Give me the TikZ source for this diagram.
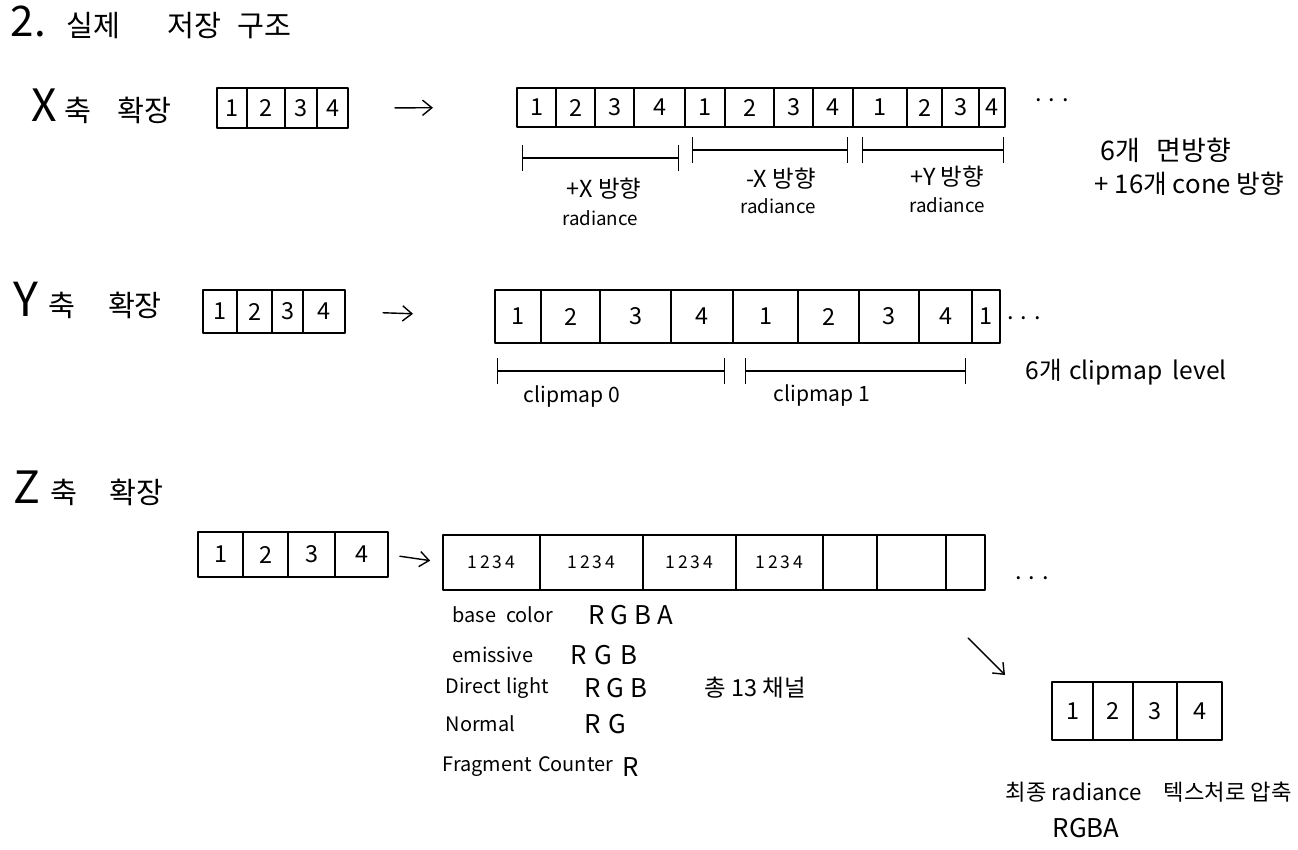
\documentclass[tikz,border=0pt]{standalone}
\usepackage{fontspec}
\setmainfont{Noto Sans CJK KR}
\usetikzlibrary{arrows.meta}
\newcommand\mkcell[7][]{\node[cellbox,#1, minimum width={(#4-#3)*0.03cm}, minimum height={(#6-#5)*0.03cm}] (#2) at ({(#3+#4)/2},{(#5+#6)/2}) {#7};}
\tikzset{
  cellbox/.style={draw, inner sep=0pt, outer sep=0pt, font=\fontsize{20}{20}\selectfont},
  zcell/.style={font=\fontsize{15}{15}\selectfont},
  conn/.style={-{Straight Barb[length=8pt,width=13pt]}, line width=1.2pt},
  dim/.style={{Bar[width=22pt]}-{Bar[width=22pt]}, line width=1.2pt},
  lbl/.style={inner sep=0pt, anchor=west, font=\fontsize{25}{27}\selectfont},
  note/.style={inner sep=0pt, font=\fontsize{20}{22}\selectfont},
  dirlab/.style={inner sep=0pt, font=\fontsize{20}{22}\selectfont},
  small/.style={inner sep=0pt, font=\fontsize{16}{18}\selectfont},
  chan/.style={inner sep=0pt, anchor=west, font=\fontsize{17}{20}\selectfont},
  chanv/.style={inner sep=0pt, anchor=west, font=\fontsize{22}{24}\selectfont}
}
\begin{document}
\begin{tikzpicture}[x=0.03cm, y=-0.03cm, line width=1.2pt, line join=round, line cap=round]
\useasboundingbox (0,0) rectangle (1298,850);

% title and row labels
\node[lbl] (title) at (10,22) {{\fontsize{36}{36}\selectfont 2.}\hspace{0.7em}실제\hspace{1.6em}저장\hspace{0.55em}구조};
\node[lbl] (xlab) at (31,106) {{\fontsize{38}{38}\selectfont X}\hspace{0.25em}축\hspace{0.9em}확장};
\node[lbl] (ylab) at (13,300) {{\fontsize{40}{40}\selectfont Y}\hspace{0.35em}축\hspace{1.1em}확장};
\node[lbl] (zlab) at (13,488) {{\fontsize{38}{38}\selectfont Z}\hspace{0.35em}축\hspace{1.1em}확장};

% ---- X row ----
\mkcell{xs1}{217}{247}{88}{128}{1}
\mkcell{xs2}{247}{285}{88}{128}{2}
\mkcell{xs3}{285}{317}{88}{128}{3}
\mkcell{xs4}{317}{348}{88}{128}{4}

\mkcell{xb1}{517}{556}{88}{127}{1}
\mkcell{xb2}{556}{595}{88}{127}{2}
\mkcell{xb3}{595}{634}{88}{127}{3}
\mkcell{xb4}{634}{685}{88}{127}{4}
\mkcell{xb5}{685}{725}{88}{127}{1}
\mkcell{xb6}{725}{774}{88}{127}{2}
\mkcell{xb7}{774}{813}{88}{127}{3}
\mkcell{xb8}{813}{853}{88}{127}{4}
\mkcell{xb9}{853}{907}{88}{127}{1}
\mkcell{xb10}{907}{942}{88}{127}{2}
\mkcell{xb11}{942}{979}{88}{127}{3}
\mkcell{xb12}{979}{1005}{88}{127}{4}
\node[note] (xdots) at (1052,100) {. . .};

\draw[conn, shorten <=1.41cm, shorten >=2.52cm] (xs4.east) -- (xb1.west);

\coordinate (bx1a) at (522,158); \coordinate (bx1b) at (679,158);
\coordinate (bx2a) at (692,150); \coordinate (bx2b) at (848,150);
\coordinate (bx3a) at (862,150); \coordinate (bx3b) at (1004,150);
\draw[dim] (bx1a) -- (bx1b);
\draw[dim] (bx2a) -- (bx2b);
\draw[dim] (bx3a) -- (bx3b);
\node[dirlab] (lpx) at (604,189) {+X 방향};
\node[small] (lpxr) at (600,218) {radiance};
\node[dirlab] (lmx) at (781,179) {-X 방향};
\node[small] (lmxr) at (778,206) {radiance};
\node[dirlab] (lpy) at (947,177) {+Y 방향};
\node[small] (lpyr) at (947,205) {radiance};

\node[note, anchor=west, font=\fontsize{23}{25}\selectfont] (n1) at (1100,150) {6개\hspace{0.6em}면방향};
\node[note, anchor=west, font=\fontsize{22}{24}\selectfont] (n2) at (1094,184) {+ 16개 cone 방향};

% ---- Y row ----
\mkcell{ys1}{203}{237}{290}{333}{1}
\mkcell{ys2}{237}{272}{290}{333}{2}
\mkcell{ys3}{272}{303}{290}{333}{3}
\mkcell{ys4}{303}{345}{290}{333}{4}

\mkcell{yb1}{495}{541}{290}{343}{1}
\mkcell{yb2}{541}{600}{290}{343}{2}
\mkcell{yb3}{600}{671}{290}{343}{3}
\mkcell{yb4}{671}{733}{290}{343}{4}
\mkcell{yb5}{733}{798}{290}{343}{1}
\mkcell{yb6}{798}{859}{290}{343}{2}
\mkcell{yb7}{859}{919}{290}{343}{3}
\mkcell{yb8}{919}{972}{290}{343}{4}
\mkcell{yb9}{972}{1000}{290}{343}{1}
\node[note] (ydots) at (1024,318) {. . .};

\draw[conn, shorten <=1.14cm, shorten >=2.46cm] (ys4.east) -- (yb1.west);

\coordinate (by1a) at (497,371); \coordinate (by1b) at (725,371);
\coordinate (by2a) at (745,371); \coordinate (by2b) at (966,371);
\draw[dim] (by1a) -- (by1b);
\draw[dim] (by2a) -- (by2b);
\node[note, font=\fontsize{18}{20}\selectfont] (c0) at (572,397) {clipmap 0};
\node[note, font=\fontsize{18}{20}\selectfont] (c1) at (822,396) {clipmap 1};

\node[note, anchor=west, font=\fontsize{21}{23}\selectfont] (n3) at (1025,372) {6개\hspace{0.3em}clipmap\hspace{0.4em}level};

% ---- Z row ----
\mkcell{zs1}{198}{243}{532}{577}{1}
\mkcell{zs2}{243}{288}{532}{577}{2}
\mkcell{zs3}{288}{335}{532}{577}{3}
\mkcell{zs4}{335}{388}{532}{577}{4}

\mkcell[zcell]{zb1}{443}{540}{535}{590}{1\,2\,3\,4}
\mkcell[zcell]{zb2}{540}{643}{535}{590}{1\,2\,3\,4}
\mkcell[zcell]{zb3}{643}{736}{535}{590}{1\,2\,3\,4}
\mkcell[zcell]{zb4}{736}{823}{535}{590}{1\,2\,3\,4}
\mkcell[zcell]{zb5}{823}{877}{535}{590}{}
\mkcell[zcell]{zb6}{877}{946}{535}{590}{}
\mkcell[zcell]{zb7}{946}{985}{535}{590}{}
\node[note] (zdots) at (1032,578) {. . .};

\draw[conn, shorten <=0.36cm, shorten >=0.39cm] (zs4.east) -- (zb1.west);

% channel list
\node[chan] (ch1) at (452,615) {base\hspace{0.5em}color};
\node[chanv] (ch1v) at (588,615) {R G B A};
\node[chan] (ch2) at (452,655) {emissive};
\node[chanv] (ch2v) at (570,655) {R\hspace{0.3em}G\hspace{0.3em}B};
\node[chan] (ch3) at (445,688) {Direct\hspace{0.3em}light};
\node[chanv] (ch3v) at (584,688) {R G B};
\node[chan] (ch4) at (445,724) {Normal};
\node[chanv] (ch4v) at (584,724) {R\hspace{0.3em}G};
\node[chan] (ch5) at (442,767) {Fragment\hspace{0.3em}Counter};
\node[chanv] (ch5v) at (622,767) {R};
\node[note] (total) at (755,688) {총 13 채널};

% compression arrow and final texture
\coordinate (da) at (968,638);
\coordinate (db) at (1005,675);
\draw[conn] (da) -- (db);

\mkcell{f1}{1052}{1093}{682}{740}{1}
\mkcell{f2}{1093}{1133}{682}{740}{2}
\mkcell{f3}{1133}{1177}{682}{740}{3}
\mkcell{f4}{1177}{1222}{682}{740}{4}

\node[note, anchor=west, font=\fontsize{19}{21}\selectfont] (fin1) at (1005,792) {최종 radiance\hspace{1em}텍스처로 압축};
\node[chanv] (fin2) at (1052,828) {RGBA};
\end{tikzpicture}
\end{document}
